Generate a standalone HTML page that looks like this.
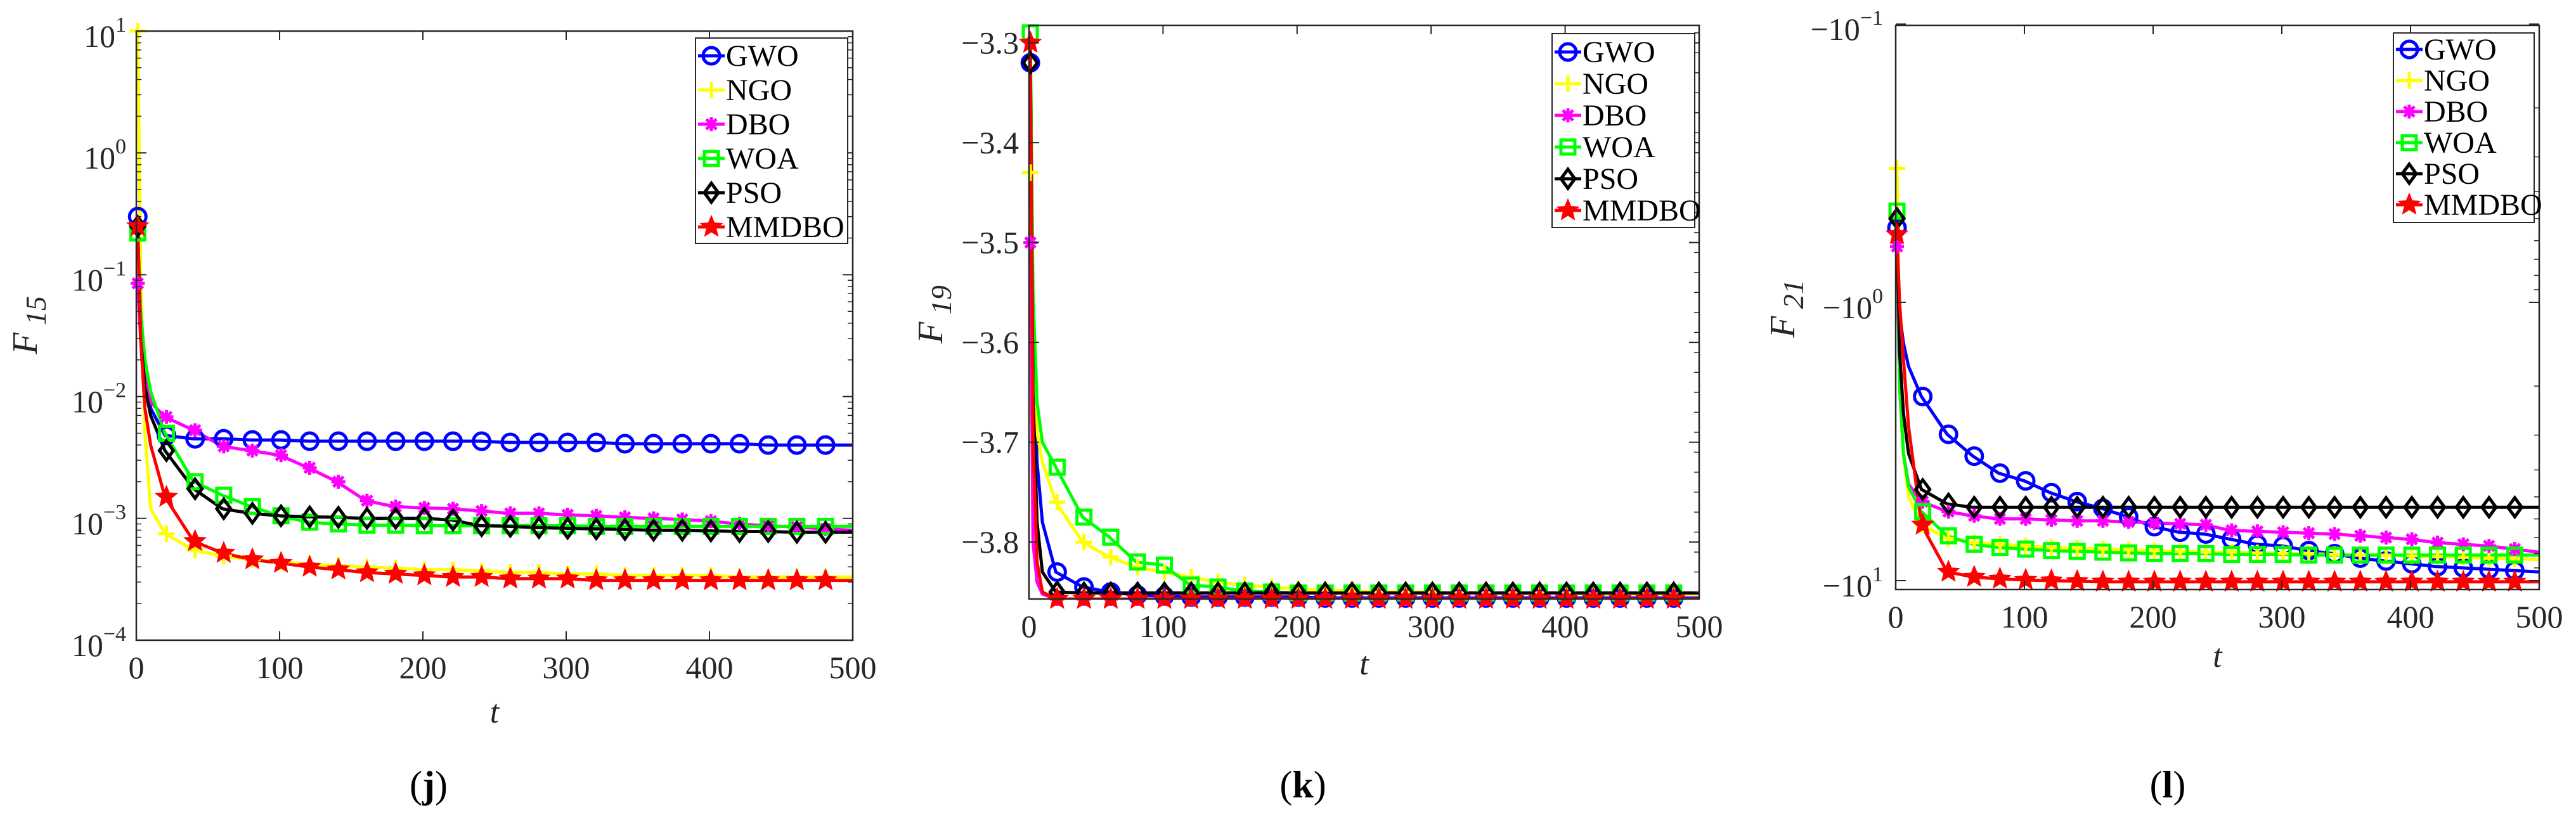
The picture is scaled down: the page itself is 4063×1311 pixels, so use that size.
<!DOCTYPE html>
<html><head><meta charset="utf-8"><style>
html,body{margin:0;padding:0;background:#fff;}
svg{display:block;font-family:"Liberation Serif",serif;}
</style></head><body>
<svg id="fig" width="4063" height="1311" viewBox="0 0 4063 1311" xmlns="http://www.w3.org/2000/svg"></svg>
<script>
const T = [0,3,6,10,20,40,60,80,100,120,140,160,180,200,220,240,260,280,300,320,340,360,380,400,420,440,460,480,500];
const seriesNames = ["GWO","NGO","DBO","WOA","PSO","MMDBO"];
const xTicks = [0,100,200,300,400,500];

// Panel j (F15)
const gwoJ = [0.3,0.05,0.015,0.008,0.0048,0.0045,0.0045,0.0044,0.0044,0.0043,0.0043,0.0043,0.0043,0.0043,0.0043,0.0043,0.0042,0.0042,0.0042,0.0042,0.0041,0.0041,0.0041,0.0041,0.0041,0.0040,0.0040,0.0040,0.0040];
const ngoJ = [10,0.1,0.005,0.0012,0.00075,0.00055,0.00049,0.00046,0.00044,0.00042,0.00041,0.0004,0.00039,0.00038,0.00038,0.00037,0.00036,0.00036,0.00035,0.00035,0.00034,0.00034,0.00034,0.00034,0.00033,0.00033,0.00033,0.00033,0.00033];
const dboJ = [0.085,0.03,0.015,0.009,0.0068,0.0053,0.0039,0.0036,0.0033,0.0026,0.002,0.0014,0.00125,0.00122,0.0012,0.00115,0.0011,0.0011,0.00107,0.00105,0.00102,0.001,0.00098,0.00095,0.0009,0.00087,0.00085,0.00082,0.0008];
const woaJ = [0.22,0.05,0.02,0.011,0.005,0.002,0.00155,0.00125,0.00105,0.00093,0.0009,0.00088,0.00088,0.00087,0.00087,0.00087,0.00087,0.00087,0.00087,0.00086,0.00086,0.00086,0.00086,0.00086,0.00086,0.00086,0.00086,0.00086,0.00086];
const psoJ = [0.25,0.03,0.012,0.007,0.0036,0.00175,0.0012,0.0011,0.00105,0.00103,0.00102,0.001,0.001,0.001,0.00097,0.00087,0.00086,0.00084,0.00083,0.00082,0.00081,0.0008,0.0008,0.00079,0.00078,0.00078,0.00077,0.00077,0.00077];
const mmdboJ = [0.25,0.03,0.008,0.004,0.0015,0.00065,0.00052,0.00046,0.00043,0.0004,0.00038,0.00036,0.00035,0.00034,0.00033,0.00033,0.00032,0.00032,0.00032,0.00031,0.00031,0.00031,0.00031,0.00031,0.00031,0.00031,0.00031,0.00031,0.00031];
const yExpJ = [1,0,-1,-2,-3,-4];

// Panel k (F19)
const gwoK = [-3.32,-3.60,-3.72,-3.78,-3.83,-3.845,-3.85,-3.853,-3.854,-3.855,-3.855,-3.855,-3.855,-3.855,-3.856,-3.856,-3.856,-3.856,-3.856,-3.856,-3.856,-3.856,-3.856,-3.856,-3.856,-3.856,-3.856,-3.856,-3.856];
const ngoK = [-3.43,-3.62,-3.69,-3.72,-3.76,-3.80,-3.815,-3.825,-3.83,-3.835,-3.84,-3.843,-3.845,-3.847,-3.848,-3.849,-3.85,-3.85,-3.85,-3.851,-3.851,-3.851,-3.851,-3.851,-3.852,-3.852,-3.852,-3.852,-3.852];
const dboK = [-3.50,-3.80,-3.84,-3.852,-3.857,-3.857,-3.857,-3.857,-3.857,-3.857,-3.857,-3.857,-3.857,-3.857,-3.857,-3.857,-3.857,-3.857,-3.857,-3.857,-3.857,-3.857,-3.857,-3.857,-3.857,-3.857,-3.857,-3.857,-3.857];
const woaK = [-3.29,-3.55,-3.66,-3.70,-3.725,-3.775,-3.795,-3.82,-3.823,-3.843,-3.845,-3.849,-3.85,-3.851,-3.851,-3.851,-3.851,-3.851,-3.851,-3.851,-3.851,-3.851,-3.851,-3.851,-3.851,-3.851,-3.851,-3.851,-3.851];
const psoK = [-3.32,-3.65,-3.78,-3.83,-3.85,-3.851,-3.851,-3.851,-3.851,-3.851,-3.851,-3.851,-3.851,-3.851,-3.851,-3.851,-3.851,-3.851,-3.851,-3.851,-3.851,-3.851,-3.851,-3.851,-3.851,-3.851,-3.851,-3.851,-3.851];
const mmdboK = [-3.30,-3.70,-3.82,-3.85,-3.857,-3.857,-3.857,-3.857,-3.857,-3.857,-3.857,-3.857,-3.857,-3.857,-3.857,-3.857,-3.857,-3.857,-3.857,-3.857,-3.857,-3.857,-3.857,-3.857,-3.857,-3.857,-3.857,-3.857,-3.857];
const yTicksK = [-3.3,-3.4,-3.5,-3.6,-3.7,-3.8];

// Panel l (F21)
const gwoL = [-0.54,-1.1,-1.4,-1.7,-2.18,-2.98,-3.57,-4.11,-4.38,-4.83,-5.2,-5.5,-5.9,-6.4,-6.7,-6.8,-7.1,-7.4,-7.5,-7.8,-8.0,-8.3,-8.5,-8.7,-8.9,-9.0,-9.1,-9.2,-9.3];
const ngoL = [-0.33,-1.5,-3.5,-5.0,-6.3,-7.05,-7.3,-7.4,-7.5,-7.6,-7.65,-7.7,-7.75,-7.8,-7.85,-7.9,-7.9,-7.95,-8.0,-8.0,-8.05,-8.1,-8.1,-8.15,-8.2,-8.25,-8.3,-8.35,-8.4];
const dboL = [-0.63,-2.0,-3.5,-4.5,-5.2,-5.65,-5.85,-6.0,-6.0,-6.05,-6.1,-6.1,-6.15,-6.2,-6.25,-6.3,-6.6,-6.65,-6.7,-6.75,-6.8,-6.9,-7.0,-7.1,-7.3,-7.4,-7.5,-7.7,-7.9];
const woaL = [-0.47,-2.0,-3.5,-4.6,-5.65,-6.9,-7.4,-7.6,-7.7,-7.8,-7.85,-7.9,-7.95,-8.0,-8.0,-8.0,-8.05,-8.05,-8.05,-8.1,-8.1,-8.1,-8.1,-8.1,-8.1,-8.1,-8.1,-8.1,-8.1];
const psoL = [-0.5,-1.5,-2.5,-3.5,-4.7,-5.3,-5.45,-5.45,-5.45,-5.45,-5.45,-5.45,-5.45,-5.45,-5.45,-5.45,-5.45,-5.45,-5.45,-5.45,-5.45,-5.45,-5.45,-5.45,-5.45,-5.45,-5.45,-5.45,-5.45];
const mmdboL = [-0.57,-1.0,-1.6,-2.8,-6.3,-9.3,-9.7,-9.85,-9.95,-10.0,-10.05,-10.1,-10.1,-10.1,-10.1,-10.1,-10.1,-10.1,-10.1,-10.1,-10.1,-10.1,-10.1,-10.1,-10.1,-10.1,-10.1,-10.1,-10.1];
const yExpL = [-1,0,1];

const NS = "http://www.w3.org/2000/svg";
const svg = document.getElementById("fig");
const colors = ["#0000ff","#ffff00","#ff00ff","#00ff00","#000000","#ff0000"];
const markers = ["circle","plus","asterisk","square","diamond","star"];

function mk(tag, attrs, parent){
  const e = document.createElementNS(NS, tag);
  for (const k in attrs) e.setAttribute(k, attrs[k]);
  (parent||svg).appendChild(e);
  return e;
}

function drawMarker(g, type, x, y, color){
  const r = 13;
  let m;
  if (type==="circle") m = mk("circle",{cx:x,cy:y,r:r,fill:"none",stroke:color,"stroke-width":5},g);
  else if (type==="square") m = mk("rect",{x:x-11,y:y-11,width:22,height:22,fill:"none",stroke:color,"stroke-width":5},g);
  else if (type==="diamond") m = mk("polygon",{points:`${x},${y-15} ${x+11},${y} ${x},${y+15} ${x-11},${y}`,fill:"none",stroke:color,"stroke-width":5},g);
  else if (type==="plus") m = mk("path",{d:`M${x-13},${y}H${x+13}M${x},${y-13}V${y+13}`,stroke:color,"stroke-width":5},g);
  else if (type==="asterisk") m = mk("path",{d:`M${x-11},${y}H${x+11}M${x},${y-11}V${y+11}M${x-8},${y-8}L${x+8},${y+8}M${x-8},${y+8}L${x+8},${y-8}`,stroke:color,"stroke-width":5},g);
  else {
    let p=[];
    for(let i=0;i<10;i++){const a=-Math.PI/2+i*Math.PI/5;const rr=i%2?8:18;p.push((x+rr*Math.cos(a)).toFixed(1)+","+(y+rr*Math.sin(a)).toFixed(1));}
    m = mk("polygon",{points:p.join(" "),fill:color,stroke:color,"stroke-width":1},g);
  }
  
  
}

function drawPanel(cfg){
  const g = mk("g",{});
  
  
  const {L,R,Tp,B} = cfg;
  const sx = t => L + (t/500)*(R-L);
  const sy = cfg.sy;
  const cid = cfg.name+"-clip";
  const defs = mk("defs",{},g);
  const cp = mk("clipPath",{id:cid},defs);
  mk("rect",{x:L,y:Tp-20,width:R-L,height:B-Tp+20},cp);
  cfg.data.forEach((arr,si)=>{
    const sg = mk("g",{"clip-path":`url(#${cid})`},g);
    
    
    const pts = arr.map((v,i)=>sx(T[i]+(i===0?1:0)).toFixed(1)+","+sy(v).toFixed(1));
    const pl = mk("polyline",{points:pts.join(" "),fill:"none",stroke:colors[si],"stroke-width":5,"stroke-linejoin":"round"},sg);
    
    
  });
  cfg.data.forEach((arr,si)=>{
    const mg = mk("g",{},g);
    
    
    arr.forEach((v,i)=>{
      if (T[i]%20===0 && T[i]<500) drawMarker(mg, markers[si], sx(T[i]+1), Math.min(sy(v),B+2), colors[si]);
    });
  });
  const box = mk("rect",{x:L,y:Tp,width:R-L,height:B-Tp,fill:"none",stroke:"#262626","stroke-width":2.5},g);
  
  
  xTicks.forEach(t=>{
    const x = sx(t);
    mk("line",{x1:x,y1:B,x2:x,y2:B-14,stroke:"#262626","stroke-width":2},g);
    mk("line",{x1:x,y1:Tp,x2:x,y2:Tp+14,stroke:"#262626","stroke-width":2},g);
    const tx = mk("text",{x:x,y:B+60,"text-anchor":"middle","font-size":50,fill:"#262626"},g);
    tx.textContent = t;
    
    
  });
  cfg.yticks(g);
  const xt = mk("text",{x:(L+R)/2,y:cfg.xtY,"text-anchor":"middle","font-size":52,"font-style":"italic",fill:"#262626"},g);
  xt.textContent = "t";
  
  
  const yt = mk("text",{transform:`translate(${cfg.ytX},${cfg.ytY}) rotate(-90)`,"text-anchor":"middle","font-size":56,"font-style":"italic",fill:"#262626"},g);
  
  
  const t1 = mk("tspan",{},yt); t1.textContent = "F";
  const t2 = mk("tspan",{dy:14,"font-size":46},yt); t2.textContent = " "+cfg.sub;
  const lg = mk("g",{},g);
  
  
  const lb = mk("rect",{x:cfg.lx,y:cfg.ly,width:cfg.lw,height:cfg.lh,fill:"#fff",stroke:"#262626","stroke-width":2},lg);
  
  
  seriesNames.forEach((n,i)=>{
    const eg = mk("g",{},lg);
    
    
    const y = cfg.ly + cfg.lfirst + i*cfg.lstep;
    mk("line",{x1:cfg.lx+4,y1:y,x2:cfg.lx+46,y2:y,stroke:colors[i],"stroke-width":5},eg);
    drawMarker(eg, markers[i], cfg.lx+25, y, colors[i]);
    const tx = mk("text",{x:cfg.lx+48,y:y+16,"font-size":48,fill:"#000"},eg);
    tx.textContent = n;
  });
  const cap = mk("text",{x:cfg.capX,y:1258,"text-anchor":"middle","font-size":60,"font-weight":"bold",fill:"#000"},g);
  
  
  const c1 = mk("tspan",{"font-weight":"normal"},cap); c1.textContent="(";
  const c2 = mk("tspan",{},cap); c2.textContent=cfg.cap;
  const c3 = mk("tspan",{"font-weight":"normal"},cap); c3.textContent=")";
}

function expLabel(g, x, y, base, exp){
  const tx = mk("text",{x:x,y:y+17,"text-anchor":"end","font-size":50,fill:"#262626"},g);
  
  
  const a = mk("tspan",{},tx); a.textContent = base;
  const b = mk("tspan",{dy:-24,"font-size":34},tx); b.textContent = exp<0 ? "\u2212"+(-exp) : String(exp);
}

// Panel j
(function(){
  const L=215,R=1345,Tp=49,B=1010;
  const sy = v => Tp + (1 - Math.log10(v))/5*(B-Tp);
  drawPanel({name:"panel-j",L,R,Tp,B,sy,data:[gwoJ,ngoJ,dboJ,woaJ,psoJ,mmdboJ],sub:"15",cap:"j",
    xtY:1140,ytX:58,ytY:513,lx:1097,ly:60,lw:240,lh:324,lfirst:28,lstep:54,capX:676,
    yticks:(g)=>{
      yExpJ.forEach(e=>{
        const y = sy(Math.pow(10,e));
        mk("line",{x1:L,y1:y,x2:L+16,y2:y,stroke:"#262626","stroke-width":2},g);
        mk("line",{x1:R,y1:y,x2:R-16,y2:y,stroke:"#262626","stroke-width":2},g);
        expLabel(g, L-16, y+8, "10", e);
        if (e>-4) for(let k=2;k<10;k++){
          const yy = sy(k*Math.pow(10,e-1));
          mk("line",{x1:L,y1:yy,x2:L+8,y2:yy,stroke:"#262626","stroke-width":1.5},g);
          mk("line",{x1:R,y1:yy,x2:R-8,y2:yy,stroke:"#262626","stroke-width":1.5},g);
        }
      });
    }});
})();

// Panel k
(function(){
  const L=1623,R=2680,Tp=40,B=945;
  const y0=-3.857,y1=-3.2825;
  const sy = v => B - (v-y0)/(y1-y0)*(B-Tp);
  drawPanel({name:"panel-k",L,R,Tp,B,sy,data:[gwoK,ngoK,dboK,woaK,psoK,mmdboK],sub:"19",cap:"k",
    xtY:1064,ytX:1486,ytY:496,lx:2448,ly:53,lw:225,lh:306,lfirst:29,lstep:50,capX:2055,
    yticks:(g)=>{
      yTicksK.forEach(v=>{
        const y = sy(v);
        mk("line",{x1:L,y1:y,x2:L+16,y2:y,stroke:"#262626","stroke-width":2},g);
        mk("line",{x1:R,y1:y,x2:R-16,y2:y,stroke:"#262626","stroke-width":2},g);
        const tx = mk("text",{x:L-16,y:y+17,"text-anchor":"end","font-size":50,fill:"#262626"},g);
        tx.textContent = "\u2212"+Math.abs(v).toFixed(1);
        
        
      });
      for(let v=-3.29; v>-3.86; v-=0.02){
        const y=sy(v);
        mk("line",{x1:R,y1:y,x2:R-8,y2:y,stroke:"#262626","stroke-width":1.5},g);
      }
    }});
})();

// Panel l
(function(){
  const L=2990,R=4005,Tp=40,B=930;
  const sy = v => 477 + Math.log10(-v)*439;
  drawPanel({name:"panel-l",L,R,Tp,B,sy,data:[gwoL,ngoL,dboL,woaL,psoL,mmdboL],sub:"21",cap:"l",
    xtY:1052,ytX:2830,ytY:487,lx:3775,ly:52,lw:222,lh:299,lfirst:26,lstep:49,capX:3419,
    yticks:(g)=>{
      yExpL.forEach(e=>{
        const y = sy(-Math.pow(10,e));
        mk("line",{x1:L,y1:y,x2:L+16,y2:y,stroke:"#262626","stroke-width":2},g);
        mk("line",{x1:R,y1:y,x2:R-16,y2:y,stroke:"#262626","stroke-width":2},g);
        expLabel(g, L-20, y+8, "\u221210", e);
        if (e<1) for(let k=2;k<10;k++){
          const yy = sy(-k*Math.pow(10,e));
          mk("line",{x1:R,y1:yy,x2:R-8,y2:yy,stroke:"#262626","stroke-width":1.5},g);
        }
      });
    }});
})();
</script>
</body></html>
